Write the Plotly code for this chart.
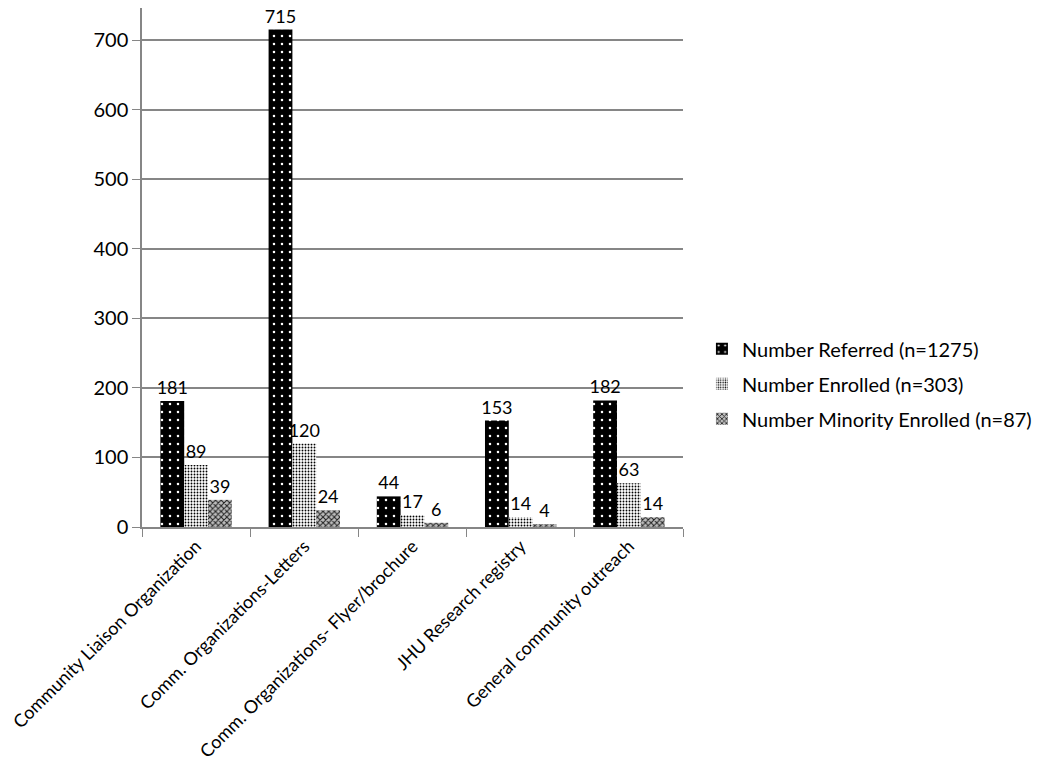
import plotly.graph_objects as go

categories = [
    "Community Liaison Organization",
    "Comm. Organizations-Letters",
    "Comm. Organizations- Flyer/brochure",
    "JHU Research registry",
    "General community outreach",
]
referred = [181, 715, 44, 153, 182]
enrolled = [89, 120, 17, 14, 63]
minority = [39, 24, 6, 4, 14]

series = [
    ("Number Referred (n=1275)", referred,
     dict(shape=".", fgcolor="white", bgcolor="black", size=8, solidity=0.08, fillmode="replace")),
    ("Number Enrolled (n=303)", enrolled,
     dict(shape=".", fgcolor="black", bgcolor="white", size=3, solidity=0.3, fillmode="replace")),
    ("Number Minority Enrolled (n=87)", minority,
     dict(shape="x", fgcolor="#222222", bgcolor="#bdbdbd", size=4, solidity=0.45, fillmode="replace")),
]

font = "Lato, Open Sans, sans-serif"

fig = go.Figure()
for i, (name, vals, pat) in enumerate(series):
    fig.add_trace(go.Bar(
        x=categories, y=vals, name=name, legendgroup=f"g{i}",
        marker=dict(color=pat["bgcolor"], pattern=pat, line=dict(width=0)),
        text=vals, textposition="outside", cliponaxis=False,
        textfont=dict(size=18, color="black", family=font),
    ))

# page has an 8px body margin, so margins are offset by 8px
fig.update_layout(
    width=1050, height=778,
    margin=dict(l=134, r=375, t=0, b=259),
    plot_bgcolor="white", paper_bgcolor="white",
    barmode="group", bargap=0.34, bargroupgap=0,
    uniformtext=dict(minsize=18, mode="show"),
    font=dict(family=font, size=18, color="black"),
    showlegend=True,
    legend=dict(x=1.035, y=0.381, xanchor="left", yanchor="top",
                font=dict(size=20), tracegroupgap=6, itemsizing="constant"),
    xaxis=dict(
        tickangle=-45, showline=True, linecolor="#868686", linewidth=1.5,
        ticks="outside", ticklen=8, tickcolor="#868686", tickson="boundaries",
        tickfont=dict(size=18), automargin=False,
    ),
    yaxis=dict(
        range=[0, 746], dtick=100, showline=True, linecolor="#868686", linewidth=1.5,
        ticks="outside", ticklen=8, tickcolor="#868686",
        showgrid=True, gridcolor="#868686", gridwidth=1.5,
        tickfont=dict(size=20), zeroline=False, automargin=False,
    ),
)

fig.write_html("out.html")
